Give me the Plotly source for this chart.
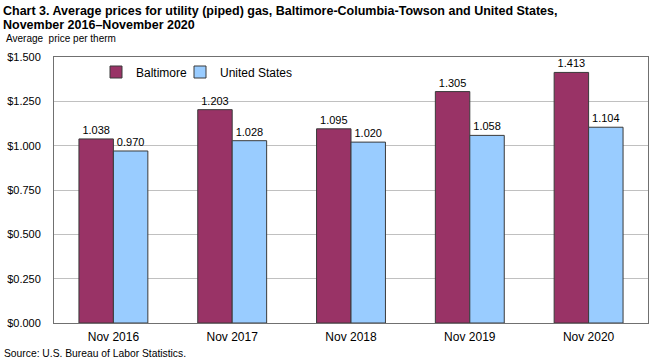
import plotly.graph_objects as go

categories = ["Nov 2016", "Nov 2017", "Nov 2018", "Nov 2019", "Nov 2020"]
baltimore = [1.038, 1.203, 1.095, 1.305, 1.413]
united_states = [0.970, 1.028, 1.020, 1.058, 1.104]
y_ticks = [0, 0.25, 0.5, 0.75, 1.0, 1.25, 1.5]

FONT = "Liberation Sans, Arial, sans-serif"

W, H = 650, 360
ML, MR, MT, MB = 54, 2, 57, 37
PW, PH = W - ML - MR, H - MT - MB


def px_x(x):
    # screen pixel x -> paper coordinate
    return (x - ML) / PW


def px_y(y):
    # screen pixel y -> paper coordinate
    return (H - MB - y) / PH


fig = go.Figure()
fig.add_trace(go.Bar(
    x=categories, y=baltimore, name="Baltimore", legend="legend",
    marker=dict(color="#993366", line=dict(color="#3a3a3a", width=1)),
    text=[f"{v:.3f}" for v in baltimore], textposition="outside",
    textfont=dict(size=11, color="#000000", family=FONT),
    cliponaxis=False,
))
fig.add_trace(go.Bar(
    x=categories, y=united_states, name="United States", legend="legend2",
    marker=dict(color="#99CCFF", line=dict(color="#3a3a3a", width=1)),
    text=[f"{v:.3f}" for v in united_states], textposition="outside",
    textfont=dict(size=11, color="#000000", family=FONT),
    cliponaxis=False,
))

legend_common = dict(orientation="h", xanchor="left", yanchor="middle",
                     font=dict(size=12, family=FONT), bgcolor="rgba(0,0,0,0)",
                     itemwidth=30)

fig.update_layout(
    width=W, height=H,
    margin=dict(l=ML, r=MR, t=MT, b=MB),
    paper_bgcolor="white", plot_bgcolor="white",
    font=dict(family=FONT, size=12, color="#000000"),
    barmode="group", bargap=0.42, bargroupgap=0,
    showlegend=True,
    legend=dict(x=px_x(138 - 42), y=px_y(72), **legend_common),
    legend2=dict(x=px_x(222 - 42), y=px_y(72), **legend_common),
    annotations=[
        dict(text="<b>Chart 3. Average prices for utility (piped) gas, Baltimore-Columbia-Towson and United States,</b>",
             x=px_x(2), y=px_y(10.5), xref="paper", yref="paper",
             xanchor="left", yanchor="middle", showarrow=False, borderpad=0,
             font=dict(size=12.5, family=FONT, color="#000000")),
        dict(text="<b>November 2016–November 2020</b>",
             x=px_x(2), y=px_y(24.5), xref="paper", yref="paper",
             xanchor="left", yanchor="middle", showarrow=False, borderpad=0,
             font=dict(size=12.5, family=FONT, color="#000000")),
        dict(text="Average  price per therm", x=px_x(4), y=px_y(39), xref="paper", yref="paper",
             xanchor="left", yanchor="middle", showarrow=False,
             font=dict(size=10, family=FONT)),
        dict(text="Source: U.S. Bureau of Labor Statistics.", x=px_x(2), y=px_y(353),
             xref="paper", yref="paper", xanchor="left", yanchor="middle",
             showarrow=False, font=dict(size=10.3, family=FONT)),
    ],
)

fig.update_xaxes(showgrid=False, showline=True, linecolor="#707070", linewidth=1,
                 mirror=True, ticks="", tickfont=dict(size=12), ticklabelstandoff=3)
fig.update_yaxes(range=[0, 1.5], tickvals=y_ticks, tickformat="$.3f",
                 showgrid=True, gridcolor="#c0c0c0", gridwidth=1,
                 showline=True, linecolor="#707070", linewidth=1, mirror=True,
                 ticks="", tickfont=dict(size=11), zeroline=False,
                 ticklabelstandoff=10)

# Remove the browser's default 8px body margin so the 650x360 figure fills the window.
fig.write_html("out.html", config={"displayModeBar": False},
               post_script="document.body.style.margin='0px';")
